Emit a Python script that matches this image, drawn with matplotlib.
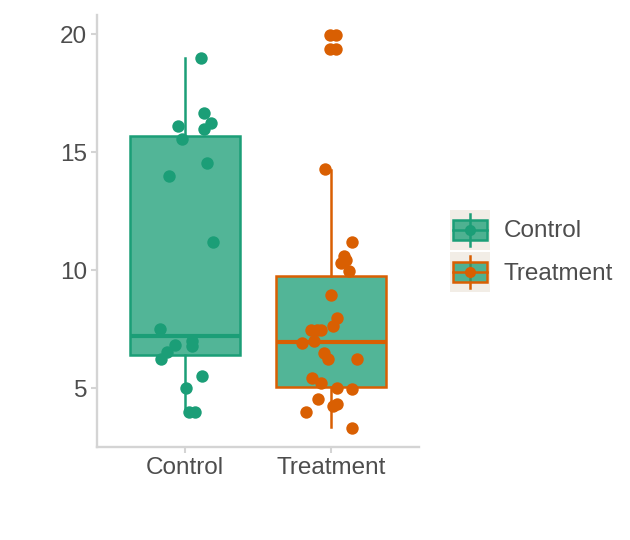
import numpy as np
import matplotlib
matplotlib.use("Agg")
import matplotlib.pyplot as plt
from matplotlib.patches import Rectangle
from matplotlib.lines import Line2D
from matplotlib.legend_handler import HandlerBase

plt.rcParams['font.family'] = ['Liberation Sans', 'DejaVu Sans']

# groups and colours
groups = ['Control', 'Treatment']
colors = ['#1B9E77', '#D95F02']
fill_color = '#1B9E77'   # both boxes use the same fill in the original

# box statistics
box_q1 = [6.41, 5.06]
box_med = [7.23, 6.97]
box_q3 = [15.69, 9.75]
box_lo = [3.98, 3.35]
box_hi = [18.99, 14.27]

# jittered points: horizontal offset (category units) and value
control_dx = [0.11, -0.05, 0.13, 0.18, 0.13, -0.02, 0.15, -0.11, 0.19, -0.17,
              -0.07, 0.05, 0.05, -0.12, -0.16, 0.12, 0.01, 0.03, 0.07]
control_y = [18.99, 16.11, 16.66, 16.24, 15.98, 15.56, 14.55, 14.0, 11.19, 7.50,
             6.82, 7.0, 6.79, 6.53, 6.23, 5.51, 5.0, 3.98, 3.98]

treat_dx = [-0.01, 0.03, -0.01, 0.03, -0.04, 0.14, 0.09, 0.10, 0.07, 0.12,
            0.0, 0.04, 0.01, -0.14, -0.10, -0.07, -0.20, -0.12, -0.05, -0.02,
            0.18, -0.13, -0.07, 0.04, 0.14, -0.09, 0.01, 0.04, -0.17, 0.14]
treat_y = [19.97, 19.97, 19.37, 19.37, 14.28, 11.22, 10.63, 10.42, 10.3, 9.97,
           8.97, 8.0, 7.66, 7.49, 7.49, 7.49, 6.94, 6.99, 6.52, 6.23,
           6.23, 5.42, 5.21, 5.0, 4.96, 4.53, 4.24, 4.32, 3.98, 3.34]

points_dx = [control_dx, treat_dx]
points_y = [control_y, treat_y]

FS = 17.5

fig = plt.figure(figsize=(6.3, 5.4), dpi=100)
ax = fig.add_axes([0.154, 0.172, 0.511, 0.800])

stats = []
for i, g in enumerate(groups):
    stats.append(dict(label=g, med=box_med[i], q1=box_q1[i], q3=box_q3[i],
                      whislo=box_lo[i], whishi=box_hi[i], fliers=[]))

pos = np.arange(1, len(groups) + 1)
bp = ax.bxp(stats, positions=pos, widths=0.75, patch_artist=True,
            showcaps=False, showfliers=False)
for i, c in enumerate(colors):
    box = bp['boxes'][i]
    box.set_facecolor(matplotlib.colors.to_rgba(fill_color, 0.76))
    box.set_edgecolor(c)
    box.set_linewidth(1.8)
    bp['medians'][i].set_color(c)
    bp['medians'][i].set_linewidth(3.0)
    for w in bp['whiskers'][2 * i:2 * i + 2]:
        w.set_color(c)
        w.set_linewidth(1.8)

for i, c in enumerate(colors):
    ax.scatter(pos[i] + np.array(points_dx[i]), points_y[i], s=80, color=c,
               linewidths=0, zorder=5)

ax.set_xlim(0.4, 2.6)
ax.set_ylim(2.51, 20.82)
ax.set_yticks([5, 10, 15, 20])
ax.set_xticks(pos)
ax.set_xticklabels(groups)

for side in ['top', 'right']:
    ax.spines[side].set_visible(False)
for side in ['left', 'bottom']:
    ax.spines[side].set_color('#D4D4D4')
    ax.spines[side].set_linewidth(1.7)
ax.tick_params(colors='#D4D4D4', width=1.5, length=4, labelsize=FS,
               labelcolor='#4D4D4D', pad=3)


class BoxKey(HandlerBase):
    def __init__(self, color):
        super().__init__()
        self.color = color

    def create_artists(self, legend, orig_handle, xdescent, ydescent,
                       width, height, fontsize, trans):
        x0, y0 = -xdescent, -ydescent
        arts = []
        arts.append(Rectangle((x0, y0), width, height, facecolor='#F2EDE6',
                              edgecolor='none', transform=trans))
        arts.append(Line2D([x0 + width / 2] * 2, [y0 + 0.1 * height, y0 + 0.9 * height],
                           color=self.color, lw=1.8, transform=trans))
        arts.append(Rectangle((x0 + 0.08 * width, y0 + 0.25 * height), 0.84 * width,
                              0.5 * height,
                              facecolor=matplotlib.colors.to_rgba(fill_color, 0.76),
                              edgecolor=self.color, lw=1.8, transform=trans))
        arts.append(Line2D([x0 + 0.08 * width, x0 + 0.92 * width], [y0 + height / 2] * 2,
                           color=self.color, lw=1.8, transform=trans))
        arts.append(Line2D([x0 + width / 2], [y0 + height / 2], marker='o',
                           markersize=8, color=self.color, markeredgewidth=0,
                           transform=trans))
        return arts


handles = [Line2D([], []), Line2D([], [])]
hmap = {handles[i]: BoxKey(colors[i]) for i in range(2)}
leg = fig.legend(handles, groups, handler_map=hmap, loc='center left',
                 bbox_to_anchor=(450 / 630, 1 - 251 / 540), frameon=False,
                 fontsize=FS, handlelength=1.65, handleheight=2.15,
                 handletextpad=0.55, labelspacing=0.12, borderpad=0,
                 borderaxespad=0)
for t in leg.get_texts():
    t.set_color('#4D4D4D')

fig.savefig('out.png', dpi=100)
